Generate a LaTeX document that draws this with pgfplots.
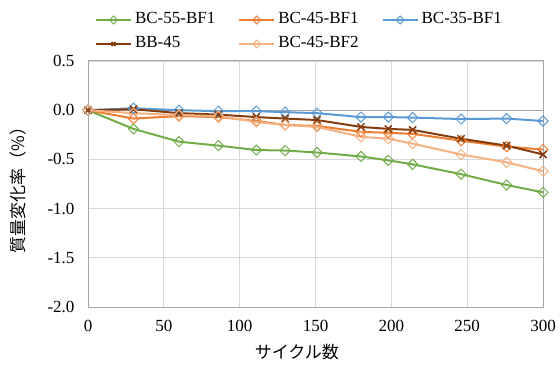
\documentclass[border=0pt]{standalone}
\usepackage{fontspec}
\setmainfont{Liberation Serif}
\newfontfamily\jp{Noto Sans CJK JP}
\usepackage{pgfplots}
\usepackage{pgfplotstable}
\pgfplotsset{compat=1.18}

\definecolor{cgreen}{HTML}{70AD47}
\definecolor{corange}{HTML}{ED7D31}
\definecolor{cblue}{HTML}{5B9BD5}
\definecolor{cbrown}{HTML}{843C0C}
\definecolor{clight}{HTML}{F4B183}
\definecolor{cframe}{HTML}{A6A6A6}
\definecolor{cgrid}{HTML}{D9D9D9}

\newcommand\chartfont{\fontsize{17bp}{20bp}\selectfont}

% mass change (%) against number of cycles
\pgfplotstableread{
x    s55    s45    s35    bb45   s45b
0    0      0      0      0      0
30  -0.19  -0.085  0.02   0.01  -0.03
60  -0.32  -0.06   0.00  -0.03  -0.05
86  -0.36  -0.07  -0.01  -0.045 -0.06
111 -0.405 -0.11  -0.01  -0.07  -0.12
130 -0.41  -0.15  -0.02  -0.085 -0.15
151 -0.43  -0.16  -0.03  -0.10  -0.17
180 -0.47  -0.22  -0.07  -0.17  -0.27
198 -0.51  -0.23  -0.07  -0.19  -0.29
214 -0.55  -0.24  -0.075 -0.20  -0.34
246 -0.65  -0.31  -0.09  -0.29  -0.45
276 -0.76  -0.37  -0.085 -0.36  -0.53
300 -0.835 -0.40  -0.11  -0.45  -0.62
}\massdata

\begin{document}
\begin{tikzpicture}
\useasboundingbox (0,0) rectangle (560bp,365bp);
\begin{axis}[
  at={(88bp,58bp)}, anchor=south west,
  scale only axis, width=455bp, height=246bp,
  xmin=0, xmax=300, ymin=-2, ymax=0.5,
  xtick={0,50,100,150,200,250,300},
  ytick={-2,-1.5,-1,-0.5,0,0.5},
  major tick length=0pt,
  grid=major,
  major grid style={draw=cgrid, line width=0.8bp},
  axis line style={draw=cframe, line width=1bp},
  extra y ticks={0},
  extra y tick labels={},
  extra y tick style={major grid style={draw=cframe, line width=1bp}},
  /pgf/number format/assume math mode=true,
  yticklabel style={/pgf/number format/fixed, /pgf/number format/fixed zerofill,
    /pgf/number format/precision=1, xshift=-10bp},
  tick label style={font=\chartfont},
  xticklabel style={yshift=-10bp},
  xlabel={\jp サイクル数},
  ylabel={\jp 質量変化率（\%）},
  xlabel style={font=\chartfont, at={(axis description cs:0.459,-0.183)}, anchor=center},
  ylabel style={font=\chartfont, at={(axis description cs:-0.154,0.492)}, anchor=center},
  every axis plot/.append style={line width=2bp},
  legend columns=3,
  legend cell align=left,
  legend style={
    at={(axis description cs:0,1)}, anchor=north west,
    xshift=7bp, yshift=49bp,
    draw=none, fill=none, inner sep=0pt, outer sep=0pt,
    font=\chartfont,
    row sep=8bp,
    nodes={inner sep=0pt, text height=12bp, text depth=4bp},
    /tikz/every odd column/.append style={column sep=3bp},
    /tikz/every even column/.append style={column sep=23bp},
  },
  legend image code/.code={
    \draw[mark repeat=2, mark phase=2, mark size=2.8bp]
      plot coordinates {(0bp,0bp) (17.5bp,0bp) (35bp,0bp)};
  },
]
\addplot[cgreen, mark=square, mark size=3.6bp,
  mark options={solid, rotate=45, fill=white, line width=1bp}]
  table[x=x, y=s55] {\massdata};
\addlegendentry{BC-55-BF1}
\addplot[corange, mark=square, mark size=3.6bp,
  mark options={solid, rotate=45, fill=white, line width=1bp}]
  table[x=x, y=s45] {\massdata};
\addlegendentry{BC-45-BF1}
\addplot[cblue, mark=square, mark size=3.6bp,
  mark options={solid, rotate=45, fill=white, line width=1bp}]
  table[x=x, y=s35] {\massdata};
\addlegendentry{BC-35-BF1}
\addplot[cbrown, mark=x, mark size=5bp,
  mark options={solid, line width=1.5bp}]
  table[x=x, y=bb45] {\massdata};
\addlegendentry{BB-45}
\addplot[clight, mark=square, mark size=3.6bp,
  mark options={solid, rotate=45, fill=white, line width=1bp}]
  table[x=x, y=s45b] {\massdata};
\addlegendentry{BC-45-BF2}
\end{axis}
\end{tikzpicture}
\end{document}
